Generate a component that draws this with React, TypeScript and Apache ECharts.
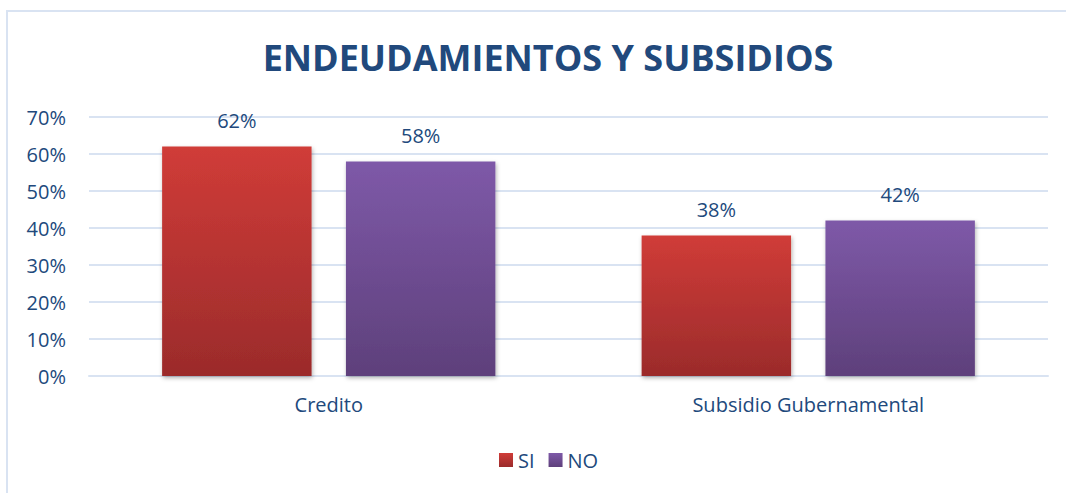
import React, { useEffect, useRef } from "react";
import * as echarts from "echarts";

const categories = ["Credito", "Subsidio Gubernamental"];
const seriesNames = ["SI", "NO"];
const siValues = [62, 38];
const noValues = [58, 42];
const yTicks = [0, 10, 20, 30, 40, 50, 60, 70];

const TEXT = "#21497C";
const GRID = "#D9E3F2";

export default function App() {
  const ref = useRef<HTMLDivElement>(null);
  useEffect(() => {
    if (!ref.current) return;
    const chart = echarts.init(ref.current, undefined, { renderer: "svg" });
    const grad = (top: string, bottom: string) =>
      new echarts.graphic.LinearGradient(0, 0, 0, 1, [
        { offset: 0, color: top },
        { offset: 1, color: bottom },
      ]);
    const shadow = {
      shadowBlur: 4,
      shadowColor: "rgba(0,0,0,0.3)",
      shadowOffsetX: 1,
      shadowOffsetY: 2,
    };
    const label = {
      show: true,
      position: "top" as const,
      distance: 16,
      color: TEXT,
      fontFamily: "Open Sans",
      fontSize: 20,
      formatter: (p: any) => `${p.value}%`,
    };
    chart.setOption({
      animation: false,
      backgroundColor: "#ffffff",
      title: {
        text: "ENDEUDAMIENTOS Y SUBSIDIOS",
        left: 543,
        top: 34,
        textAlign: "center",
        textStyle: {
          color: TEXT,
          fontFamily: "Open Sans",
          fontWeight: "bold",
          fontSize: 36,
        },
      },
      graphic: [
        {
          type: "rect",
          shape: { x: 7, y: 11, width: 1100, height: 520 },
          style: { fill: "none", stroke: GRID, lineWidth: 2 },
          silent: true,
          z: -1,
        },
      ],
      legend: {
        data: seriesNames,
        left: 494,
        top: 445,
        itemWidth: 14,
        itemHeight: 14,
        itemGap: 14,
        icon: "rect",
        textStyle: { color: TEXT, fontFamily: "Open Sans", fontSize: 20 },
      },
      grid: { left: 89, right: 18, top: 117, bottom: 117 },
      xAxis: {
        type: "category",
        data: categories,
        axisTick: { show: false },
        axisLine: { show: true, lineStyle: { color: GRID, width: 2 } },
        axisLabel: {
          color: TEXT,
          fontFamily: "Open Sans",
          fontSize: 20,
          margin: 18,
        },
      },
      yAxis: {
        type: "value",
        min: yTicks[0],
        max: yTicks[yTicks.length - 1],
        interval: 10,
        axisLine: { show: false },
        axisTick: { show: false },
        splitLine: { lineStyle: { color: GRID, width: 2 } },
        axisLabel: {
          color: TEXT,
          fontFamily: "Open Sans",
          fontSize: 20,
          margin: 23,
          formatter: (v: number) => `${v}%`,
        },
      },
      series: [
        {
          name: seriesNames[0],
          type: "bar",
          data: siValues,
          barCategoryGap: "30.5%",
          barGap: "23%",
          itemStyle: { color: grad("#D03C38", "#9B2B2B"), ...shadow },
          label,
        },
        {
          name: seriesNames[1],
          type: "bar",
          data: noValues,
          itemStyle: { color: grad("#7E59A8", "#5E407B"), ...shadow },
          label,
        },
      ],
    });
    return () => chart.dispose();
  }, []);
  return (
    <div
      ref={ref}
      style={{ position: "absolute", left: 0, top: 0, width: 1066, height: 493 }}
    />
  );
}
